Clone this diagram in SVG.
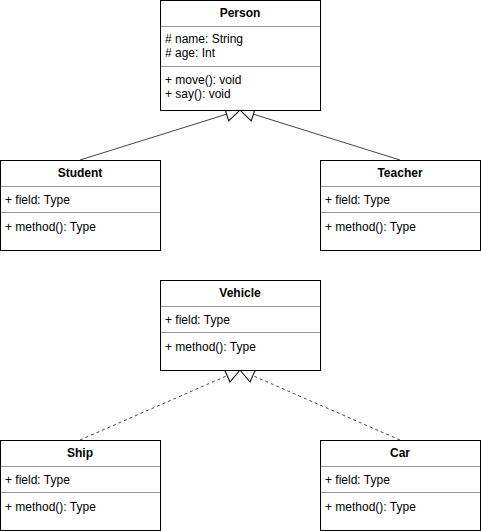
<svg xmlns="http://www.w3.org/2000/svg" width="481" height="531" viewBox="0 0 481 531">
<style>
.box{fill:#fff;stroke:#000;stroke-width:1}
.div{stroke:#999;stroke-width:1}
.t{font-family:"Liberation Sans",Arial,Helvetica,sans-serif;font-size:12px;fill:#000}
.h{font-weight:bold;text-anchor:middle}
.conn{fill:none;stroke:#444;stroke-width:1}
.dash{stroke-dasharray:3 3}
</style>
<defs>
<marker id="tri" markerWidth="16" markerHeight="16" viewBox="0 0 16 16" refX="15" refY="8" orient="auto" markerUnits="userSpaceOnUse">
<path d="M1,1 L15,8 L1,15 Z" fill="#fff" stroke="#000" stroke-width="1"/>
</marker>
</defs>
<g id="connectors">
<line class="conn" x1="80" y1="160" x2="240" y2="110" marker-end="url(#tri)"/>
<line class="conn" x1="400" y1="160" x2="240" y2="110" marker-end="url(#tri)"/>
<line class="conn dash" x1="80" y1="440" x2="240" y2="370" marker-end="url(#tri)"/>
<line class="conn dash" x1="400" y1="440" x2="240" y2="370" marker-end="url(#tri)"/>
</g>
<g id="person">
<rect class="box" x="160.5" y="0.5" width="160" height="110"/>
<line class="div" x1="161" y1="26.5" x2="320" y2="26.5"/>
<line class="div" x1="161" y1="66.5" x2="320" y2="66.5"/>
<text class="t h" x="240" y="16.5">Person</text>
<text class="t" x="165" y="43"># name: String</text>
<text class="t" x="165" y="56.5"># age: Int</text>
<text class="t" x="165" y="84">+ move(): void</text>
<text class="t" x="165" y="97.5">+ say(): void</text>
</g>
<g id="student">
<rect class="box" x="0.5" y="160.5" width="160" height="90"/>
<line class="div" x1="1" y1="186.5" x2="160" y2="186.5"/>
<line class="div" x1="1" y1="212.5" x2="160" y2="212.5"/>
<text class="t h" x="80" y="177">Student</text>
<text class="t" x="5" y="204">+ field: Type</text>
<text class="t" x="5" y="231">+ method(): Type</text>
</g>
<g id="teacher">
<rect class="box" x="320.5" y="160.5" width="160" height="90"/>
<line class="div" x1="321" y1="186.5" x2="480" y2="186.5"/>
<line class="div" x1="321" y1="212.5" x2="480" y2="212.5"/>
<text class="t h" x="400" y="177">Teacher</text>
<text class="t" x="325" y="204">+ field: Type</text>
<text class="t" x="325" y="231">+ method(): Type</text>
</g>
<g id="vehicle">
<rect class="box" x="160.5" y="280.5" width="160" height="90"/>
<line class="div" x1="161" y1="306.5" x2="320" y2="306.5"/>
<line class="div" x1="161" y1="332.5" x2="320" y2="332.5"/>
<text class="t h" x="240" y="297">Vehicle</text>
<text class="t" x="165" y="324">+ field: Type</text>
<text class="t" x="165" y="351">+ method(): Type</text>
</g>
<g id="ship">
<rect class="box" x="0.5" y="440.5" width="160" height="90"/>
<line class="div" x1="1" y1="466.5" x2="160" y2="466.5"/>
<line class="div" x1="1" y1="492.5" x2="160" y2="492.5"/>
<text class="t h" x="80" y="457">Ship</text>
<text class="t" x="5" y="484">+ field: Type</text>
<text class="t" x="5" y="511">+ method(): Type</text>
</g>
<g id="car">
<rect class="box" x="320.5" y="440.5" width="160" height="90"/>
<line class="div" x1="321" y1="466.5" x2="480" y2="466.5"/>
<line class="div" x1="321" y1="492.5" x2="480" y2="492.5"/>
<text class="t h" x="400" y="457">Car</text>
<text class="t" x="325" y="484">+ field: Type</text>
<text class="t" x="325" y="511">+ method(): Type</text>
</g>
</svg>
